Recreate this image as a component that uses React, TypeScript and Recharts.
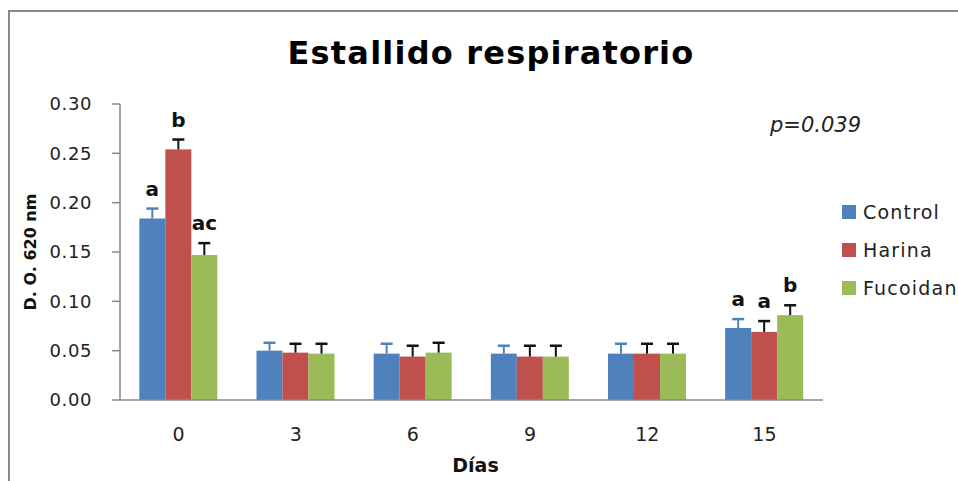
import React from 'react';
import { BarChart, Bar, XAxis, YAxis, Legend } from 'recharts';

const days = ['0', '3', '6', '9', '12', '15'];
const control = [0.184, 0.05, 0.047, 0.047, 0.047, 0.073];
const harina = [0.254, 0.048, 0.044, 0.044, 0.047, 0.069];
const fucoidan = [0.147, 0.047, 0.048, 0.044, 0.047, 0.086];
const controlErr = [0.01, 0.008, 0.01, 0.008, 0.01, 0.009];
const harinaErr = [0.01, 0.009, 0.011, 0.011, 0.01, 0.011];
const fucoidanErr = [0.012, 0.01, 0.01, 0.011, 0.01, 0.01];
const controlSig = ['a', '', '', '', '', 'a'];
const harinaSig = ['b', '', '', '', '', 'a'];
const fucoidanSig = ['ac', '', '', '', '', 'b'];
const yTicks = [0, 0.05, 0.1, 0.15, 0.2, 0.25, 0.3];

const series = [
  { key: 'Control', color: '#4F81BD', errColor: '#4F81BD' },
  { key: 'Harina', color: '#C0504D', errColor: '#111111' },
  { key: 'Fucoidan', color: '#9BBB59', errColor: '#111111' },
];

const data = days.map((d, i) => ({
  day: d,
  Control: control[i],
  Harina: harina[i],
  Fucoidan: fucoidan[i],
  ControlErr: controlErr[i],
  HarinaErr: harinaErr[i],
  FucoidanErr: fucoidanErr[i],
  ControlSig: controlSig[i],
  HarinaSig: harinaSig[i],
  FucoidanSig: fucoidanSig[i],
}));

const FONT = '"DejaVu Sans", sans-serif';

const makeShape = (key: string, errColor: string) => (props: any) => {
  const { x, y, width, height, fill, payload } = props;
  const v = payload[key];
  const pxPerUnit = v ? height / v : 0;
  const e = payload[key + 'Err'] * pxPerUnit;
  const cx = x + width / 2;
  const top = y - e;
  const sig = payload[key + 'Sig'];
  return (
    <g>
      <rect x={x} y={y} width={width} height={height} fill={fill} />
      <line x1={cx} y1={y} x2={cx} y2={top} stroke={errColor} strokeWidth={2} />
      <line x1={cx - 6} y1={top} x2={cx + 6} y2={top} stroke={errColor} strokeWidth={2.5} />
      {sig ? (
        <text x={cx} y={top - 13} textAnchor="middle" fontFamily={FONT} fontWeight="bold" fontSize={20} fill="#111">
          {sig}
        </text>
      ) : null}
    </g>
  );
};

const LegendContent = () => (
  <div style={{ fontFamily: FONT, fontSize: 19, color: '#222', letterSpacing: 1.2 }}>
    {series.map((s) => (
      <div key={s.key} style={{ display: 'flex', alignItems: 'center', height: 38, whiteSpace: 'nowrap' }}>
        <span style={{ display: 'inline-block', width: 14, height: 14, background: s.color, marginRight: 7 }} />
        <span>{s.key}</span>
      </div>
    ))}
  </div>
);

export default function App() {
  return (
    <div style={{ position: 'fixed', top: 8, left: 8, width: 950, height: 473, overflow: 'hidden', background: '#fff' }}>
      <div
        style={{
          position: 'absolute',
          top: 2,
          left: 0,
          right: -10,
          bottom: -10,
          borderTop: '2px solid #8a8a8a',
          borderLeft: '2px solid #8a8a8a',
        }}
      />
      <BarChart
        width={950}
        height={473}
        data={data}
        margin={{ top: 96, right: 135, bottom: 41, left: 0 }}
        barCategoryGap="16.5%"
        barGap={0}
      >
        <XAxis
          dataKey="day"
          tickLine={false}
          axisLine={{ stroke: '#888', strokeWidth: 1.5 }}
          tick={{ fontFamily: FONT, fontSize: 19, fill: '#222' }}
          tickMargin={22}
          height={40}
          label={{ value: 'Días', position: 'bottom', offset: 19, fontFamily: FONT, fontWeight: 'bold', fontSize: 19, fill: '#111', dx: 4 }}
        />
        <YAxis
          domain={[0, 0.3]}
          ticks={yTicks}
          width={112}
          tickSize={8}
          tickMargin={20}
          tickFormatter={(v: number) => v.toFixed(2)}
          axisLine={{ stroke: '#888', strokeWidth: 1.5 }}
          tickLine={{ stroke: '#888', strokeWidth: 1.5 }}
          tick={{ fontFamily: FONT, fontSize: 18, fill: '#222', letterSpacing: 0.6 }}
        />
        <Legend
          layout="vertical"
          align="center"
          verticalAlign="middle"
          content={<LegendContent />}
          wrapperStyle={{ left: 834, top: 185, width: 140 }}
        />
        {series.map((s) => (
          <Bar
            key={s.key}
            dataKey={s.key}
            fill={s.color}
            isAnimationActive={false}
            shape={makeShape(s.key, s.errColor)}
          />
        ))}
      </BarChart>
      <svg width={950} height={473} style={{ position: 'absolute', left: 0, top: 0, pointerEvents: 'none' }}>
        <text x={483} y={56} textAnchor="middle" fontFamily={FONT} fontWeight="bold" fontSize={32} letterSpacing={1.2} fill="#000">
          Estallido respiratorio
        </text>
        <text x={762} y={124} fontFamily={FONT} fontStyle="italic" fontSize={21} fill="#222">
          p=0.039
        </text>
        <text
          x={22}
          y={244}
          transform="rotate(-90 22 244)"
          textAnchor="middle"
          dominantBaseline="central"
          fontFamily={FONT}
          fontWeight="bold"
          fontSize={16}
          fill="#111"
        >
          D. O. 620 nm
        </text>
      </svg>
    </div>
  );
}
